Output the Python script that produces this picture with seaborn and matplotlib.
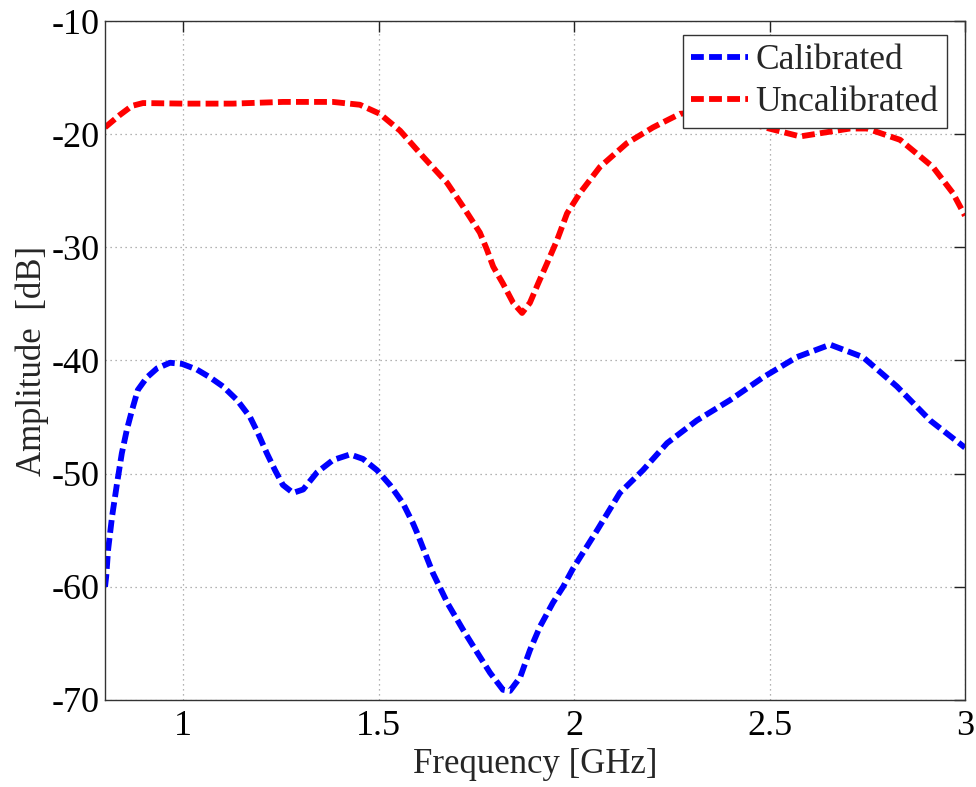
import matplotlib
matplotlib.use("Agg")
import matplotlib.pyplot as plt
import seaborn as sns
import pandas as pd

# Frequency sweep readings (GHz) and amplitudes (dB)
freq_cal = [0.800, 0.803, 0.808, 0.818, 0.831, 0.843, 0.856, 0.869, 0.884, 0.907,
            0.933, 0.966, 0.997, 1.035, 1.069, 1.102, 1.138, 1.171, 1.191, 1.214,
            1.235, 1.255, 1.281, 1.307, 1.342, 1.383, 1.427, 1.460, 1.496, 1.529,
            1.562, 1.588, 1.598, 1.639, 1.677, 1.716, 1.752, 1.785, 1.818, 1.836,
            1.862, 1.887, 1.913, 1.946, 1.972, 1.997, 2.059, 2.117, 2.176, 2.238,
            2.314, 2.399, 2.483, 2.570, 2.655, 2.739, 2.826, 2.911, 3.000]
amp_cal = [-60.0, -59.1, -56.7, -53.8, -50.8, -48.2, -46.1, -44.4, -42.6, -41.5,
           -40.7, -40.2, -40.3, -40.8, -41.5, -42.3, -43.5, -45.0, -46.4, -48.2,
           -49.7, -51.0, -51.7, -51.4, -49.9, -48.8, -48.3, -48.7, -49.7, -51.0,
           -52.6, -54.4, -55.2, -58.8, -61.5, -63.8, -65.8, -67.6, -69.1, -69.2,
           -68.0, -65.6, -63.5, -61.4, -60.0, -58.4, -55.0, -51.7, -49.7, -47.3,
           -45.3, -43.5, -41.5, -39.7, -38.6, -39.7, -42.3, -45.3, -47.7]

freq_uncal = [0.800, 0.838, 0.869, 0.897, 1.000, 1.127, 1.255, 1.383, 1.452, 1.503,
              1.555, 1.614, 1.675, 1.716, 1.759, 1.777, 1.793, 1.818, 1.844, 1.867,
              1.887, 1.908, 1.931, 1.956, 1.982, 2.015, 2.066, 2.135, 2.202, 2.271,
              2.373, 2.476, 2.578, 2.706, 2.749, 2.834, 2.918, 2.969, 3.000]
amp_uncal = [-19.4, -18.3, -17.5, -17.25, -17.3, -17.3, -17.15, -17.15, -17.4, -18.2,
             -19.7, -22.0, -24.3, -26.4, -28.7, -30.2, -31.7, -33.2, -34.9, -35.8,
             -34.9, -33.2, -31.4, -29.4, -27.0, -25.2, -22.9, -20.8, -19.4, -18.2,
             -17.9, -19.3, -20.2, -19.5, -19.5, -20.5, -22.9, -25.2, -27.2]

x_ticks = [1, 1.5, 2, 2.5, 3]
x_tick_labels = ["1", "1.5", "2", "2.5", "3"]
y_ticks = [-70, -60, -50, -40, -30, -20, -10]
y_tick_labels = ["-70", "-60", "-50", "-40", "-30", "-20", "-10"]

sns.set_style("white")
plt.rcParams["font.family"] = ["Liberation Serif", "DejaVu Serif"]
plt.rcParams["font.size"] = 24

fig = plt.figure(figsize=(9.76, 7.87), dpi=100)
ax = fig.add_axes([0.1076, 0.1106, 0.8811, 0.8627])

df_cal = pd.DataFrame({"f": freq_cal, "a": amp_cal})
df_uncal = pd.DataFrame({"f": freq_uncal, "a": amp_uncal})

sns.lineplot(data=df_cal, x="f", y="a", ax=ax, color="#0000ff", lw=4.2,
             sort=False, label="Calibrated", dashes=False)
sns.lineplot(data=df_uncal, x="f", y="a", ax=ax, color="#ff0000", lw=4.2,
             sort=False, label="Uncalibrated", dashes=False)
for line in ax.get_lines():
    line.set_dashes((2.2, 0.9))
    line.set_dash_capstyle("butt")
    line.set_solid_joinstyle("round")

ax.set_xlim(0.8, 3)
ax.set_ylim(-70, -10)
ax.set_xticks(x_ticks)
ax.set_xticklabels(x_tick_labels)
ax.set_yticks(y_ticks)
ax.set_yticklabels(y_tick_labels)

ax.grid(True, color="#9a9a9a", linestyle=(0, (1, 3)), linewidth=0.9)
ax.tick_params(direction="in", length=8, width=1, top=True, right=True,
               labelsize=26, colors="#222222", labelcolor="black")
ax.tick_params(axis="x", pad=7)
ax.tick_params(axis="y", pad=4)
for sp in ax.spines.values():
    sp.set_color("#333333")
    sp.set_linewidth(1.0)

ax.set_xlabel("Frequency [GHz]", fontsize=25, labelpad=4)
ax.set_ylabel("Amplitude  [dB]", fontsize=25, labelpad=2)

leg = ax.legend(loc="upper right", bbox_to_anchor=(0.979, 0.979),
                borderaxespad=0, fontsize=25.5, fancybox=False, framealpha=1,
                edgecolor="#333333", handlelength=1.6, handletextpad=0.2,
                borderpad=0.25, labelspacing=0.25)
leg.get_frame().set_linewidth(1.0)
for h in leg.get_lines():
    h.set_dashes((2.2, 0.9))
    h.set_linewidth(4.2)

fig.savefig("out.png", dpi=100)
